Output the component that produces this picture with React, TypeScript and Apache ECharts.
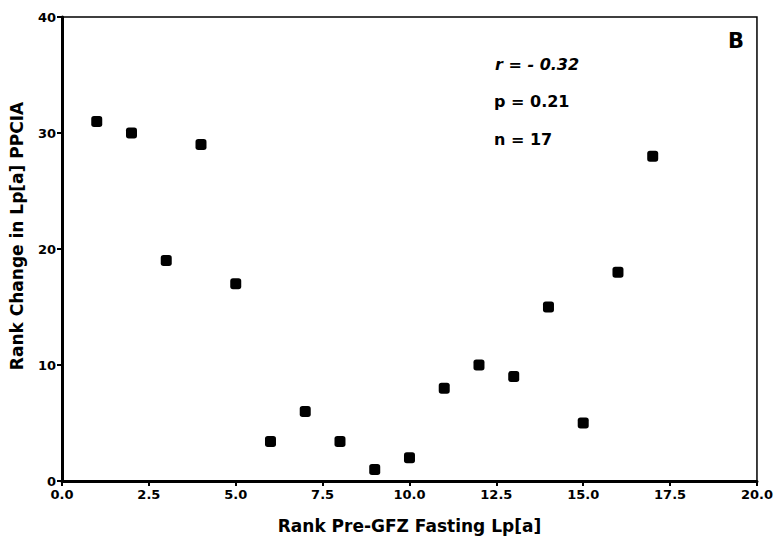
import React, { useEffect, useRef } from "react";
import * as echarts from "echarts";

const rankPre: number[] = [1, 2, 3, 4, 5, 6, 7, 8, 9, 10, 11, 12, 13, 14, 15, 16, 17];
const rankChange: number[] = [31, 30, 19, 29, 17, 3.4, 6, 3.4, 1, 2, 8, 10, 9, 15, 5, 18, 28];
const statLines: string[] = ["r = - 0.32", "p = 0.21", "n = 17"];
const panelLabel = "B";
const xTitle = "Rank Pre-GFZ Fasting Lp[a]";
const yTitle = "Rank Change in Lp[a] PPCIA";

export default function App() {
  const ref = useRef<HTMLDivElement>(null);
  useEffect(() => {
    if (!ref.current) return;
    const chart = echarts.init(ref.current, null, { renderer: "svg" });
    const font = "'DejaVu Sans', 'Liberation Sans', Arial, sans-serif";
    chart.setOption({
      animation: false,
      backgroundColor: "#ffffff",
      grid: {
        left: 62,
        right: 16,
        top: 17,
        bottom: 59,
        show: true,
        borderColor: "#000",
        borderWidth: 1.5,
      },
      xAxis: {
        type: "value",
        min: 0,
        max: 20,
        interval: 2.5,
        name: xTitle,
        nameLocation: "middle",
        nameGap: 36,
        nameTextStyle: { color: "#000", fontFamily: font, fontWeight: "bold", fontSize: 17 },
        axisLine: { show: true, lineStyle: { color: "#000", width: 3 } },
        axisTick: { show: true, length: 5, lineStyle: { color: "#000", width: 2 } },
        axisLabel: {
          color: "#000",
          fontFamily: font,
          fontSize: 13,
          fontWeight: "bold",
          margin: 7,
          formatter: (v: number) => v.toFixed(1),
        },
        splitLine: { show: false },
        z: 5,
      },
      yAxis: {
        type: "value",
        min: 0,
        max: 40,
        interval: 10,
        axisLine: { show: true, lineStyle: { color: "#000", width: 3 } },
        axisTick: { show: true, length: 5, lineStyle: { color: "#000", width: 2 } },
        axisLabel: {
          color: "#000",
          fontFamily: font,
          fontSize: 13,
          fontWeight: "bold",
          margin: 6,
        },
        splitLine: { show: false },
        z: 5,
      },
      graphic: [
        {
          type: "text",
          x: 17,
          y: 236,
          rotation: Math.PI / 2,
          style: {
            text: yTitle,
            fill: "#000",
            font: `bold 17px ${font}`,
            textAlign: "center",
            textVerticalAlign: "middle",
          },
        },
        {
          type: "text",
          x: 736,
          y: 41,
          style: {
            text: panelLabel,
            fill: "#000",
            font: `bold 21px ${font}`,
            textAlign: "center",
            textVerticalAlign: "middle",
          },
        },
        {
          type: "text",
          x: 495,
          y: 64,
          style: {
            text: statLines[0],
            fill: "#000",
            font: `italic bold 16px ${font}`,
            textVerticalAlign: "middle",
          },
        },
        {
          type: "text",
          x: 494,
          y: 101,
          style: {
            text: statLines[1],
            fill: "#000",
            font: `bold 16px ${font}`,
            textVerticalAlign: "middle",
          },
        },
        {
          type: "text",
          x: 494,
          y: 139,
          style: {
            text: statLines[2],
            fill: "#000",
            font: `bold 16px ${font}`,
            textVerticalAlign: "middle",
          },
        },
      ],
      series: [
        {
          type: "scatter",
          data: rankPre.map((x, i) => [x, rankChange[i]]),
          symbol: "roundRect",
          symbolSize: 11,
          itemStyle: { color: "#000", opacity: 1 },
          z: 10,
        },
      ],
    });
    return () => chart.dispose();
  }, []);
  return <div ref={ref} style={{ width: 776, height: 540, position: "absolute", left: 0, top: 0 }} />;
}
